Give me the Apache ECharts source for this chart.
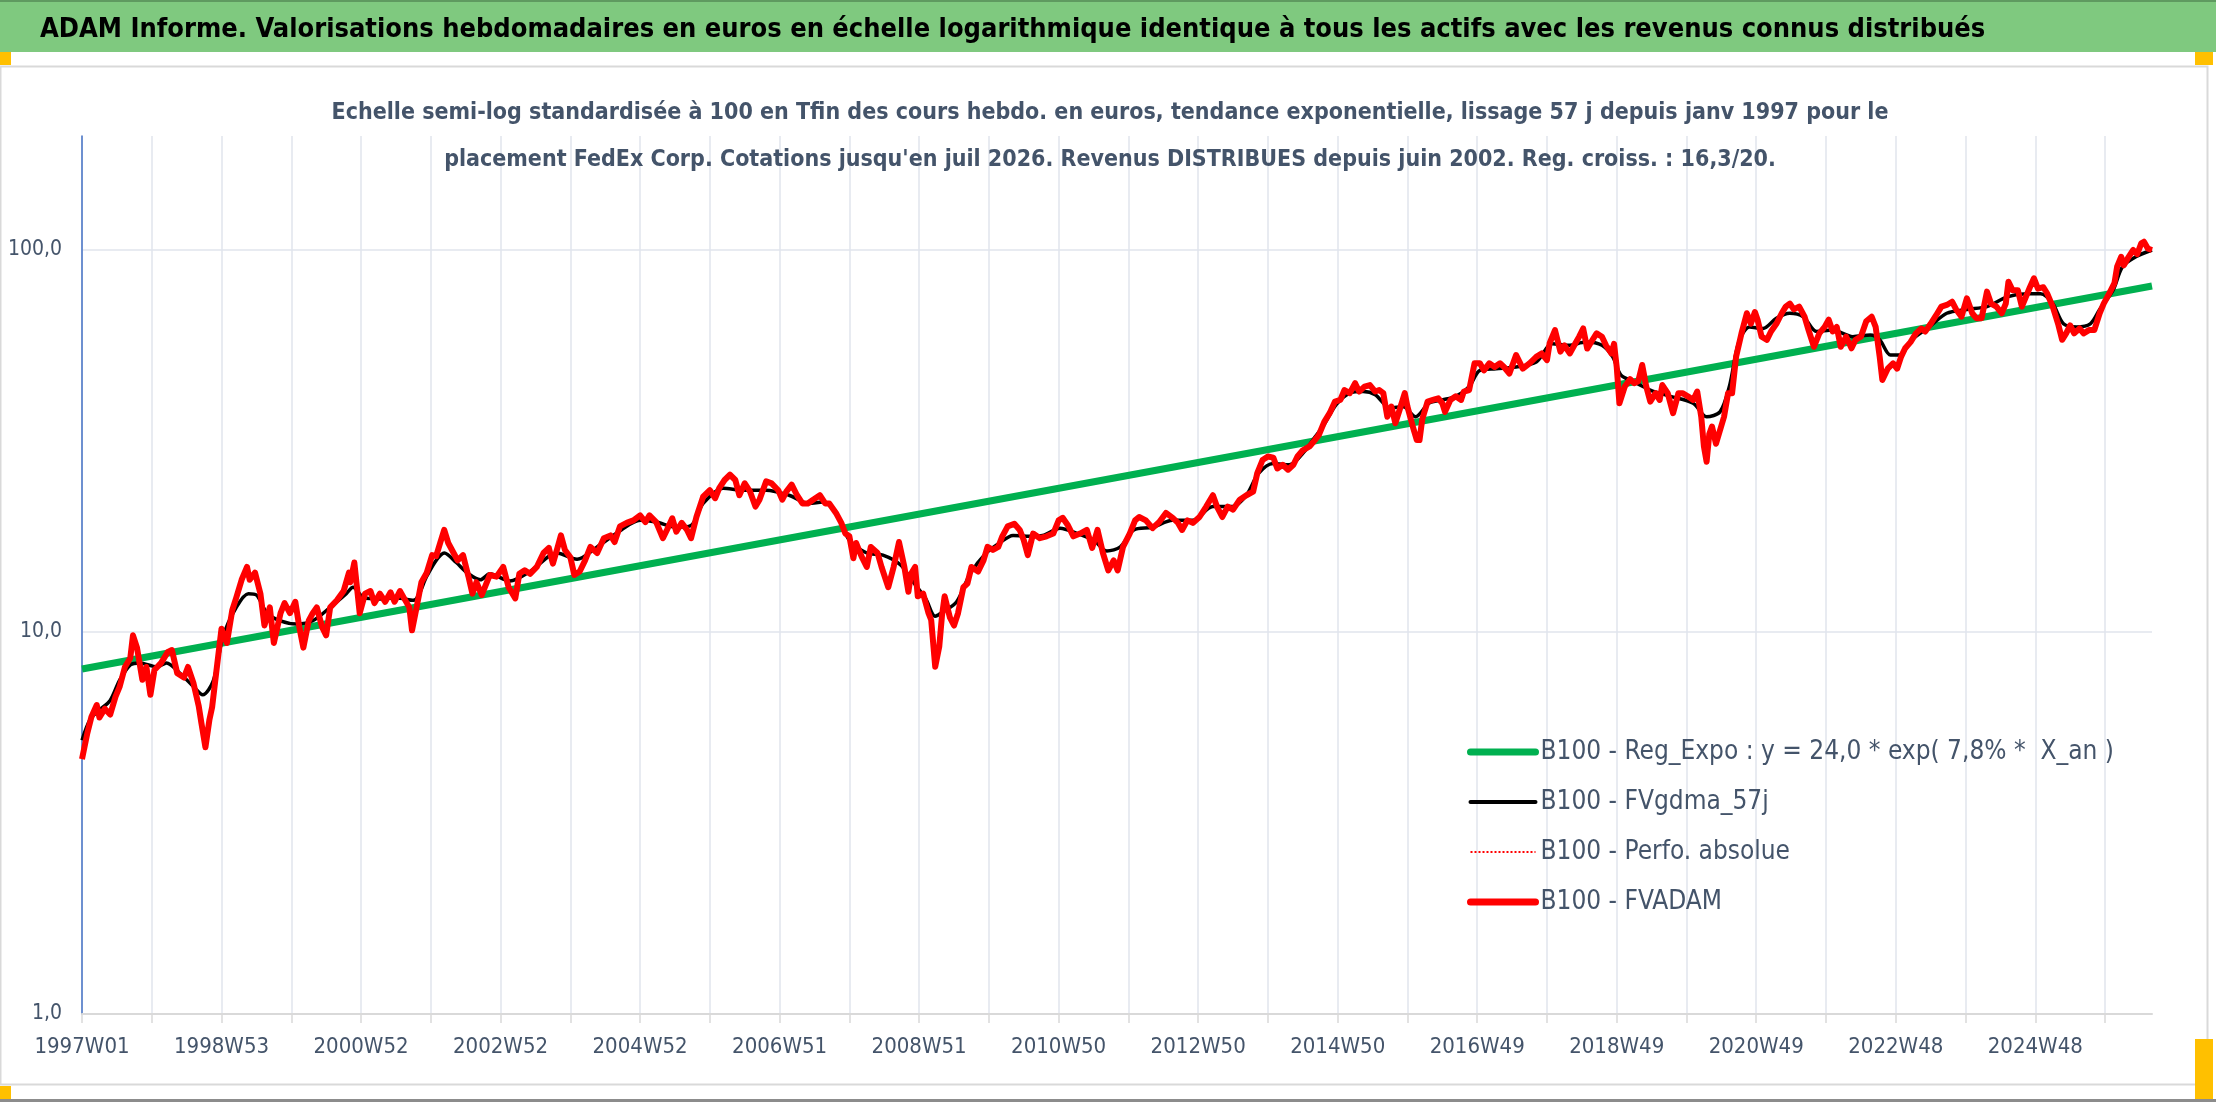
<!DOCTYPE html>
<html>
<head>
<meta charset="utf-8">
<title>ADAM Informe - FedEx Corp.</title>
<script src="https://cdn.jsdelivr.net/npm/echarts@6/dist/echarts.min.js"></script>
<style>
  html, body { margin: 0; padding: 0; background: #fff; }
  #chart { width: 2216px; height: 1102px; }
</style>
</head>
<body>
<div id="chart"></div>
<script>
// semaines (index depuis 1997W01) et libellés de l'axe X
var xTickLabels = ['1997W01', '1998W53', '2000W52', '2002W52', '2004W52', '2006W51', '2008W51',
  '2010W50', '2012W50', '2014W50', '2016W49', '2018W49', '2020W49', '2022W48', '2024W48'];
var yTicks = [1, 10, 100];
var lastWeek = 1543;

// B100 - Reg_Expo (droite en semi-log)
var regExpo = [[0, 8.0], [1543, 80.5]];

// B100 - FVgdma_57j
var fvgdma = [
  [0, 5.21], [6, 5.9], [13, 6.25], [21, 6.62], [28, 7.47], [36, 8.2], [43, 8.3], [56, 8.1], [63, 8.3],
  [73, 7.8], [83, 7.2], [90, 6.85], [98, 7.47], [105, 9.7], [115, 11.6], [124, 12.6], [130, 12.5],
  [138, 11.2], [148, 10.7], [160, 10.5], [172, 10.7], [185, 11.6], [197, 12.6], [202, 13.1], [210, 12.3],
  [222, 12.2], [234, 12.3], [247, 12.1], [257, 14.0], [264, 15.4], [270, 16.1], [279, 15.2], [287, 14.3],
  [297, 13.7], [304, 14.2], [319, 13.6], [334, 14.4], [354, 16.1], [369, 15.5], [384, 16.7], [402, 18.5],
  [416, 19.6], [428, 19.4], [443, 18.8], [454, 19.0], [463, 21.7], [478, 23.8], [493, 23.5], [510, 23.5],
  [527, 22.8], [542, 21.7], [552, 21.9], [562, 20.5], [572, 17.4], [585, 16.1], [597, 15.9], [610, 15.0],
  [619, 13.6], [629, 12.2], [636, 11.0], [642, 11.3], [652, 12.0], [662, 14.2], [674, 16.1], [684, 17.1],
  [694, 17.9], [704, 17.8], [716, 17.9], [729, 18.7], [742, 18.1], [754, 17.4], [764, 16.3], [774, 16.7],
  [784, 18.5], [798, 18.8], [813, 19.6], [828, 19.6], [843, 21.3], [858, 21.3], [868, 22.8], [877, 26.0],
  [888, 27.6], [900, 27.4], [912, 29.9], [918, 32.0], [925, 34.5], [935, 39.4], [945, 42.2], [955, 42.6],
  [964, 41.8], [975, 38.6], [985, 38.9], [994, 36.6], [1004, 39.7], [1014, 40.5], [1024, 41.4], [1034, 43.9],
  [1042, 48.4], [1054, 48.9], [1069, 49.4], [1084, 50.9], [1096, 56.8], [1108, 56.3], [1121, 57.4],
  [1133, 56.3], [1141, 52.5], [1147, 47.1], [1156, 45.3], [1169, 43.0], [1184, 41.4], [1201, 39.7],
  [1211, 36.6], [1221, 37.7], [1228, 44.0], [1235, 57.4], [1243, 62.9], [1253, 62.3], [1263, 66.3],
  [1273, 68.3], [1283, 66.9], [1293, 61.2], [1305, 61.7], [1320, 59.3], [1333, 59.9], [1340, 58.2],
  [1348, 53.1], [1355, 53.1], [1364, 58.2], [1377, 62.9], [1390, 68.3], [1405, 69.9], [1420, 71.1],
  [1435, 75.4], [1450, 76.8], [1460, 76.8], [1469, 72.4], [1477, 64.1], [1487, 62.9], [1497, 64.1],
  [1504, 69.9], [1514, 78.5], [1521, 90.4], [1531, 96.0], [1543, 100]
];

// B100 - FVADAM (la perfo. absolue est confondue avec elle)
var fvadam = [
  [0, 4.65], [4, 5.44], [7, 5.99], [11, 6.44], [13, 5.97], [17, 6.3], [21, 6.08], [25, 6.77], [28, 7.18],
  [32, 8.1], [36, 8.55], [38, 9.8], [41, 9.1], [45, 7.5], [48, 8.1], [51, 6.85], [54, 7.95], [59, 8.3],
  [64, 8.87], [67, 8.97], [71, 7.8], [76, 7.6], [79, 8.1], [83, 7.37], [87, 6.4], [89, 5.78], [92, 4.99],
  [95, 5.9], [97, 6.36], [100, 7.8], [104, 10.2], [108, 9.36], [112, 11.4], [115, 12.3], [119, 13.7],
  [123, 14.8], [125, 13.7], [129, 14.3], [133, 12.6], [136, 10.4], [140, 11.6], [143, 9.36], [148, 11.2],
  [151, 11.9], [155, 11.2], [159, 12.0], [162, 10.3], [165, 9.1], [169, 10.7], [172, 11.2], [175, 11.6],
  [179, 10.3], [182, 9.8], [185, 11.6], [190, 12.1], [195, 12.8], [199, 14.3], [200, 13.5], [203, 15.2],
  [207, 11.2], [211, 12.6], [215, 12.8], [218, 11.9], [222, 12.6], [226, 12.0], [230, 12.7], [233, 12.0],
  [237, 12.8], [241, 12.1], [244, 11.6], [246, 10.1], [249, 11.4], [253, 13.5], [257, 14.3], [261, 15.9],
  [264, 15.8], [267, 17.1], [270, 18.5], [273, 17.1], [277, 16.1], [280, 15.4], [284, 15.9], [288, 14.0],
  [291, 12.6], [294, 13.5], [298, 12.5], [304, 14.1], [309, 13.96], [314, 14.8], [318, 13.1], [323, 12.25],
  [326, 14.2], [330, 14.5], [334, 14.2], [339, 14.8], [344, 16.1], [348, 16.6], [351, 15.1], [354, 16.4],
  [357, 17.9], [360, 16.4], [364, 15.7], [367, 14.1], [371, 14.4], [375, 15.4], [379, 16.7], [384, 16.1],
  [389, 17.6], [394, 17.9], [397, 17.2], [401, 18.9], [406, 19.3], [411, 19.6], [416, 20.2], [420, 19.4],
  [423, 20.2], [428, 19.4], [433, 17.6], [436, 18.5], [440, 19.85], [443, 18.3], [447, 19.3], [451, 18.5],
  [454, 17.6], [458, 20.0], [463, 22.6], [468, 23.5], [472, 22.4], [475, 23.8], [479, 25.0], [483, 25.8],
  [487, 25.0], [490, 22.8], [494, 24.5], [498, 23.3], [502, 21.3], [505, 22.2], [510, 24.8], [514, 24.5],
  [519, 23.5], [522, 22.2], [525, 23.3], [529, 24.3], [533, 22.8], [537, 21.7], [541, 21.7], [545, 22.2],
  [550, 22.8], [554, 21.7], [557, 21.7], [562, 20.5], [566, 19.3], [569, 18.1], [572, 17.8], [575, 15.6],
  [577, 17.1], [581, 15.8], [585, 14.8], [588, 16.7], [593, 16.1], [596, 14.8], [601, 13.1], [605, 14.8],
  [609, 17.2], [613, 14.8], [616, 12.75], [618, 14.2], [621, 14.8], [623, 12.4], [627, 12.6], [631, 11.2],
  [633, 10.75], [636, 8.11], [639, 9.15], [641, 11.0], [643, 12.4], [647, 10.9], [650, 10.4], [653, 11.2],
  [657, 13.1], [660, 13.4], [663, 14.8], [668, 14.4], [672, 15.4], [675, 16.7], [679, 16.4], [683, 16.7],
  [686, 17.8], [690, 18.9], [695, 19.2], [699, 18.5], [702, 17.4], [705, 15.9], [709, 18.1], [714, 17.6],
  [719, 17.8], [724, 18.1], [728, 19.6], [731, 19.9], [735, 19.0], [739, 17.8], [744, 18.1], [749, 18.5],
  [753, 16.6], [757, 18.5], [761, 16.1], [765, 14.5], [769, 15.4], [772, 14.5], [776, 16.7], [781, 18.1],
  [785, 19.6], [788, 20.0], [793, 19.6], [798, 18.7], [803, 19.4], [808, 20.5], [813, 19.9], [817, 19.3],
  [820, 18.5], [824, 19.6], [828, 19.3], [833, 20.0], [838, 21.3], [843, 22.8], [846, 21.3], [850, 20.0],
  [854, 21.3], [858, 20.9], [863, 22.2], [868, 22.8], [873, 23.3], [876, 26.0], [880, 28.2], [884, 28.8],
  [888, 28.6], [891, 26.8], [895, 27.4], [899, 26.6], [903, 27.4], [906, 28.8], [910, 29.9], [915, 30.6],
  [919, 31.8], [922, 32.8], [926, 35.5], [930, 37.4], [934, 40.1], [938, 40.5], [941, 43.0], [945, 42.2],
  [949, 44.8], [952, 42.6], [956, 43.9], [960, 44.3], [964, 42.6], [967, 43.0], [970, 42.2], [973, 36.6],
  [976, 38.9], [979, 35.2], [982, 38.0], [986, 42.2], [988, 38.9], [992, 34.5], [995, 31.8], [997, 31.8],
  [999, 36.0], [1003, 40.1], [1007, 40.5], [1011, 40.9], [1014, 39.7], [1016, 37.7], [1020, 40.5],
  [1024, 41.4], [1028, 40.5], [1030, 42.6], [1034, 43.0], [1038, 50.5], [1042, 50.5], [1045, 48.4],
  [1049, 50.5], [1053, 49.4], [1057, 50.5], [1060, 49.4], [1064, 47.5], [1069, 53.1], [1074, 48.9],
  [1079, 50.5], [1084, 52.5], [1088, 53.6], [1092, 51.5], [1094, 57.0], [1098, 61.7], [1102, 54.2],
  [1105, 56.3], [1109, 53.6], [1113, 56.8], [1116, 59.3], [1119, 62.3], [1122, 55.2], [1126, 58.2],
  [1129, 60.5], [1133, 59.3], [1136, 56.3], [1140, 53.6], [1142, 56.8], [1144, 49.4], [1146, 39.7],
  [1150, 43.9], [1154, 45.9], [1157, 44.8], [1160, 45.3], [1163, 50.0], [1166, 43.9], [1169, 40.1],
  [1173, 42.2], [1176, 40.5], [1178, 44.3], [1182, 42.2], [1186, 37.4], [1190, 42.2], [1193, 42.2],
  [1197, 41.4], [1201, 40.5], [1204, 42.6], [1207, 36.6], [1209, 30.6], [1211, 27.9], [1213, 33.0],
  [1215, 34.5], [1218, 31.1], [1224, 36.6], [1227, 42.2], [1230, 42.2], [1233, 52.6], [1237, 60.5],
  [1241, 68.3], [1244, 64.1], [1247, 68.8], [1249, 65.7], [1252, 59.3], [1256, 58.2], [1259, 61.2],
  [1263, 64.1], [1267, 68.3], [1270, 71.1], [1273, 72.4], [1276, 69.9], [1280, 71.1], [1284, 66.9],
  [1287, 61.7], [1291, 55.8], [1295, 60.5], [1299, 62.9], [1302, 65.7], [1305, 61.2], [1308, 62.9],
  [1311, 55.8], [1315, 59.3], [1319, 55.3], [1322, 58.2], [1326, 59.3], [1330, 65.1], [1334, 66.9],
  [1337, 62.9], [1340, 52.6], [1342, 45.7], [1346, 48.9], [1350, 50.5], [1353, 48.9], [1356, 52.6],
  [1359, 55.3], [1363, 57.4], [1367, 60.5], [1371, 62.3], [1374, 61.2], [1378, 64.1], [1382, 67.4],
  [1386, 71.1], [1390, 71.8], [1394, 73.2], [1397, 69.9], [1401, 66.9], [1405, 74.7], [1409, 68.3],
  [1412, 66.3], [1416, 66.3], [1420, 77.8], [1423, 72.4], [1427, 71.1], [1431, 68.3], [1434, 72.4],
  [1436, 82.6], [1439, 78.5], [1443, 78.5], [1446, 71.1], [1449, 75.4], [1452, 79.9], [1455, 84.3],
  [1458, 79.2], [1462, 79.9], [1465, 76.8], [1469, 71.1], [1473, 64.1], [1476, 58.2], [1479, 60.5],
  [1482, 63.5], [1485, 60.5], [1489, 62.3], [1492, 60.5], [1496, 61.7], [1500, 61.7], [1504, 68.3],
  [1507, 72.4], [1511, 76.8], [1515, 81.9], [1517, 90.4], [1520, 96.0], [1522, 91.2], [1525, 95.2],
  [1529, 100], [1532, 97.6], [1535, 104.1], [1537, 105.1], [1540, 100.8], [1543, 100]
];
var perfoAbsolue = fvadam;

var FONT = "'Liberation Sans Narrow', 'DejaVu Sans Condensed', 'Open Sans', sans-serif";
var TXT = '#44546a';

// une graduation par an (52 semaines), un libellé tous les deux ans
var gridWeeks = [];
for (var k = 0; k * 52 <= lastWeek; k++) gridWeeks.push(k * 52);
var labelWeeks = xTickLabels.map(function (s, i) { return i * 104; });

var myChart = echarts.init(document.getElementById('chart'));

var option = {
  backgroundColor: '#ffffff',
  animation: false,
  textStyle: { fontFamily: FONT },
  graphic: [
    { type: 'rect', shape: { x: 0, y: 0, width: 2216, height: 52 }, style: { fill: '#7fc97f' }, z: 0 },
    { type: 'rect', shape: { x: 0, y: 0, width: 2216, height: 2 }, style: { fill: '#5f9a60' }, z: 0 },
    { type: 'rect', shape: { x: 0.5, y: 66.5, width: 2207, height: 1018 }, style: { fill: 'none', stroke: '#d9d9d9', lineWidth: 2 }, z: 0 },
    { type: 'rect', shape: { x: 0, y: 1099, width: 2216, height: 3 }, style: { fill: '#8c8c8c' }, z: 0 },
    { type: 'rect', shape: { x: 0, y: 52, width: 11, height: 13 }, style: { fill: '#ffc000' }, z: 1 },
    { type: 'rect', shape: { x: 2195, y: 52, width: 18, height: 13 }, style: { fill: '#ffc000' }, z: 1 },
    { type: 'rect', shape: { x: 0, y: 1086, width: 11, height: 13 }, style: { fill: '#ffc000' }, z: 1 },
    { type: 'rect', shape: { x: 2195, y: 1039, width: 18, height: 60 }, style: { fill: '#ffc000' }, z: 1 }
  ],
  title: [
    {
      text: 'ADAM Informe. Valorisations hebdomadaires en euros en échelle logarithmique identique à tous les actifs avec les revenus connus distribués',
      left: 35, top: 11,
      textStyle: { fontFamily: FONT, fontSize: 27, fontWeight: 'bold', color: '#000000' }
    },
    {
      text: "Echelle semi-log standardisée à 100 en Tfin des cours hebdo. en euros, tendance exponentielle, lissage 57 j depuis janv 1997 pour le\nplacement FedEx Corp. Cotations jusqu'en juil 2026. Revenus DISTRIBUES depuis juin 2002. Reg. croiss. : 16,3/20.",
      left: 1105, top: 85, textAlign: 'center',
      textStyle: { fontFamily: FONT, fontSize: 23, fontWeight: 'bold', color: TXT, lineHeight: 47, align: 'center' }
    }
  ],
  legend: {
    orient: 'vertical',
    left: 1462, top: 734,
    itemWidth: 65, itemHeight: 14, itemGap: 24, itemTextGap: 8,
    itemStyle: { opacity: 0 },
    textStyle: { fontFamily: FONT, fontSize: 26, color: TXT },
    data: [
      { name: 'B100 - Reg_Expo : y = 24,0 * exp( 7,8% *  X_an )', lineStyle: { width: 7, cap: 'round' } },
      { name: 'B100 - FVgdma_57j', lineStyle: { width: 4, cap: 'round' } },
      { name: 'B100 - Perfo. absolue', lineStyle: { width: 2, type: 'dotted' } },
      { name: 'B100 - FVADAM', lineStyle: { width: 7, cap: 'round' } }
    ]
  },
  grid: { left: 82, right: 64, top: 136, bottom: 88 },
  xAxis: {
    type: 'value', min: 0, max: lastWeek,
    axisLine: { show: true, lineStyle: { color: '#d9d9d9', width: 2 } },
    axisTick: { show: true, length: 9, customValues: gridWeeks, lineStyle: { color: '#d9d9d9', width: 1.5 } },
    splitLine: { show: true, lineStyle: { color: '#e1e5ec', width: 1.5 } },
    axisLabel: {
      customValues: labelWeeks, margin: 22,
      fontFamily: FONT, fontSize: 22, color: TXT,
      formatter: function (v) { var i = labelWeeks.indexOf(v); return i >= 0 ? xTickLabels[i] : ''; }
    }
  },
  yAxis: {
    type: 'log', logBase: 10, min: 1, max: 198.8,
    axisLine: { show: true, lineStyle: { color: '#4472c4', width: 1.5 } },
    axisTick: { show: false, customValues: yTicks },
    splitLine: { show: true, lineStyle: { color: '#e1e5ec', width: 1.5 } },
    axisLabel: {
      customValues: yTicks, margin: 20,
      fontFamily: FONT, fontSize: 21, color: TXT,
      formatter: function (v) { return Number(v).toFixed(1).replace('.', ','); }
    }
  },
  series: [
    {
      name: 'B100 - Reg_Expo : y = 24,0 * exp( 7,8% *  X_an )', type: 'line', data: regExpo,
      symbol: 'none', color: '#00b050', lineStyle: { color: '#00b050', width: 7 }, z: 2
    },
    {
      name: 'B100 - FVgdma_57j', type: 'line', data: fvgdma, smooth: 0.3,
      symbol: 'none', color: '#000000', lineStyle: { color: '#000000', width: 3.5 }, z: 3
    },
    {
      name: 'B100 - Perfo. absolue', type: 'line', data: perfoAbsolue,
      symbol: 'none', color: '#ff0000', lineStyle: { color: '#ff0000', width: 2, type: 'dotted' }, z: 4
    },
    {
      name: 'B100 - FVADAM', type: 'line', data: fvadam,
      symbol: 'none', color: '#ff0000', lineStyle: { color: '#ff0000', width: 6, join: 'round' }, z: 5
    }
  ]
};

myChart.setOption(option);
</script>
</body>
</html>
